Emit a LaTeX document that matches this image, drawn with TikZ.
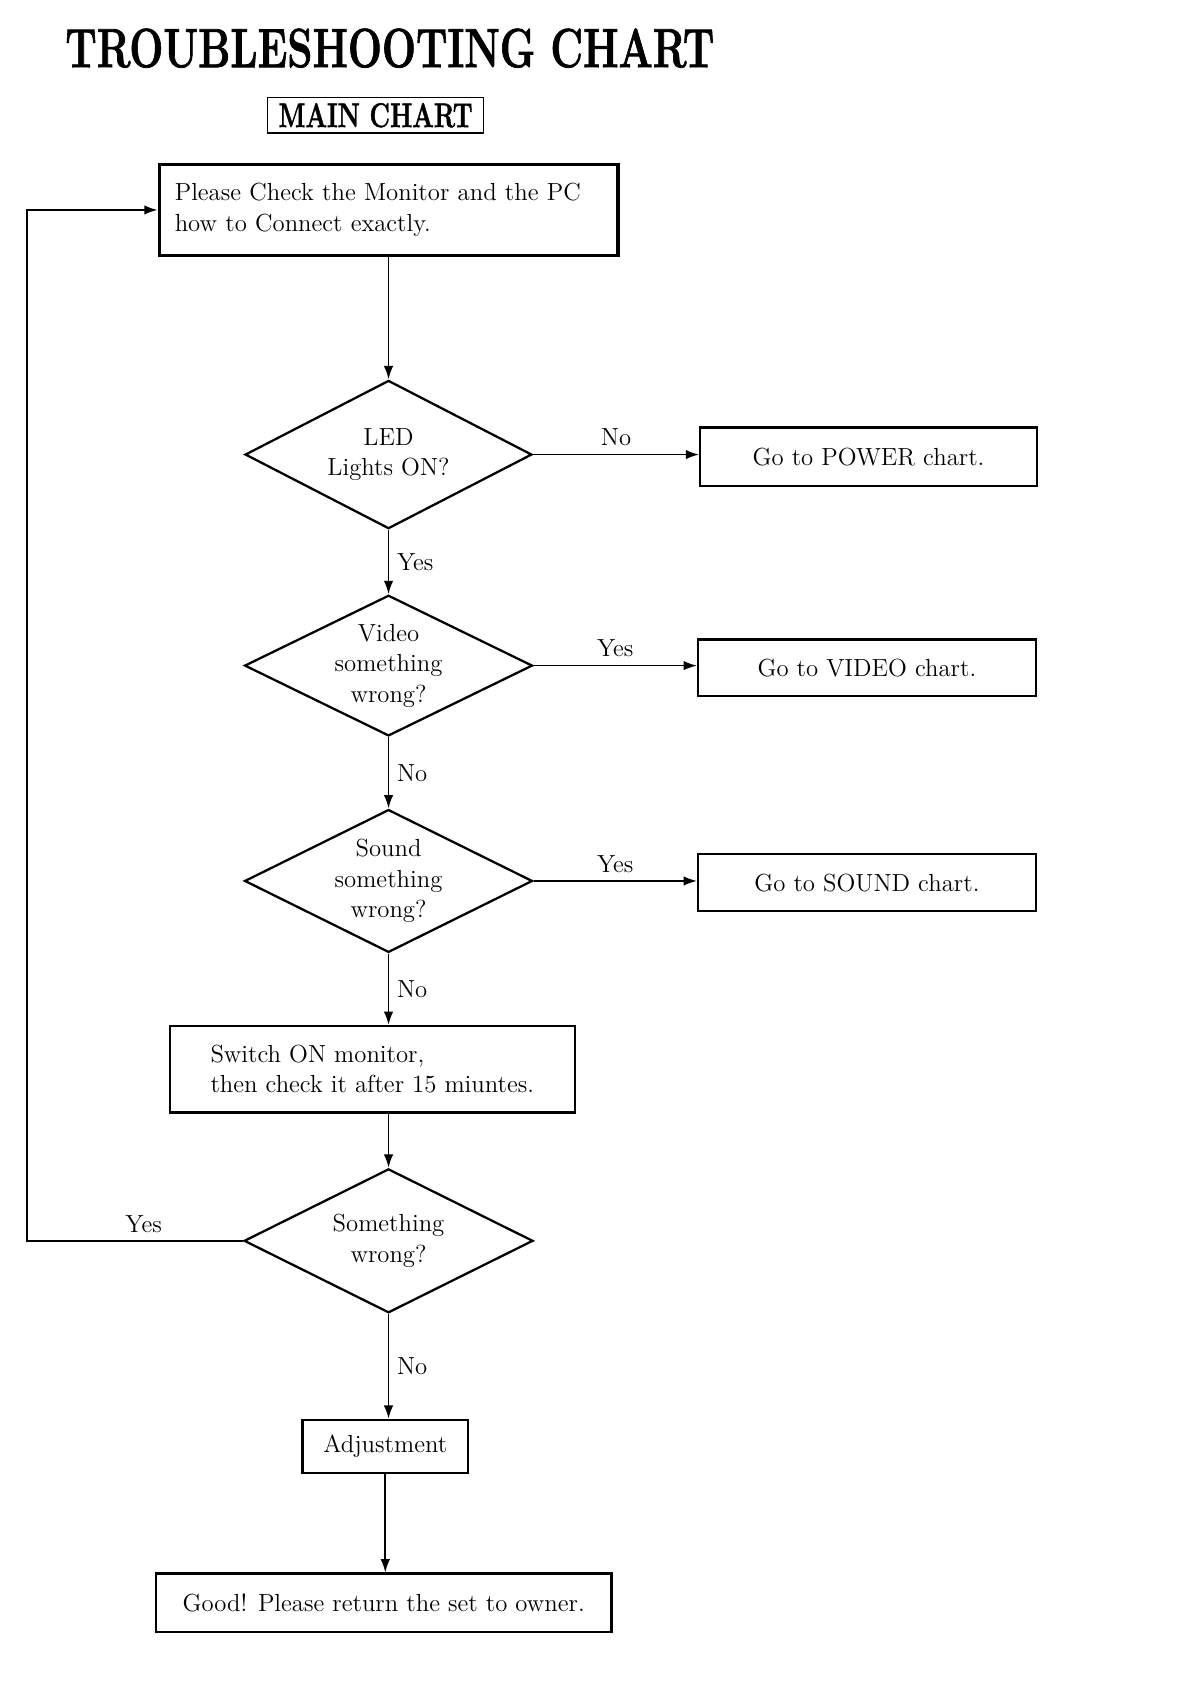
\documentclass[tikz,border=0pt]{standalone}
\usepackage{fontspec}
\usepackage{graphicx}
\usetikzlibrary{shapes.geometric,arrows.meta}
\newfontfamily\headfont[FakeBold=1.5]{Latin Modern Roman}

\begin{document}
\begin{tikzpicture}[
	box/.style={draw, black, line width=1.2pt, inner sep=0pt, align=center, font=\fontsize{13}{16}\selectfont},
	decision/.style={draw, black, diamond, aspect=2, line width=1.2pt, inner sep=0pt, align=center, font=\fontsize{13}{16}\selectfont},
	flow/.style={black, line width=0.9pt, -{Latex[length=7pt, width=5pt]}},
	lbl/.style={inner sep=4pt, font=\fontsize{13}{16}\selectfont},
	]
			    \useasboundingbox (0, 0) rectangle (22, -31.12);

			    \node [anchor=base west, inner sep=0pt, font=\fontsize{29}{30}\headfont\bfseries] at (1.2, -1.24) (title) {\scalebox{0.73}[1]{TROUBLESHOOTING CHART}};
			    \node [draw, line width=0.7pt, minimum width=4cm, minimum height=0.66cm, inner sep=0pt, font=\fontsize{18}{20}\headfont\bfseries] at (6.94, -2.13) (main) {\scalebox{0.74}[1]{MAIN CHART}};

			    \node [box, line width=1.6pt, minimum width=8.48cm, minimum height=1.68cm, text width=7.9cm, align=left] at (7.18, -3.88) (check) {Please Check the Monitor and the PC\\how to Connect exactly.};

			    \node [decision, minimum width=5.3cm, minimum height=2.74cm] at (7.18, -8.4) (led) {LED\\Lights ON?};
			    \node [box, minimum width=6.22cm, minimum height=1.08cm] at (16.05, -8.44) (powerchart) {Go to POWER chart.};

			    \node [decision, minimum width=5.32cm, minimum height=2.6cm] at (7.18, -12.3) (video) {Video\\something\\wrong?};
			    \node [box, minimum width=6.24cm, minimum height=1.04cm] at (16.02, -12.34) (videochart) {Go to VIDEO chart.};

			    \node [decision, minimum width=5.32cm, minimum height=2.64cm] at (7.18, -16.28) (sound) {Sound\\something\\wrong?};
			    \node [box, minimum width=6.24cm, minimum height=1.06cm] at (16.02, -16.31) (soundchart) {Go to SOUND chart.};

			    \node [box, minimum width=7.48cm, minimum height=1.6cm, align=left] at (6.88, -19.76) (warmup) {Switch ON monitor,\\then check it after 15 miuntes.};

			    \node [decision, minimum width=5.34cm, minimum height=2.66cm] at (7.18, -22.93) (recheck) {Something\\wrong?};
			    \coordinate (loop) at (0.5, -22.93);

			    \node [box, minimum width=3.06cm, minimum height=0.98cm] at (7.12, -26.73) (adjust) {Adjustment};
			    \node [box, minimum width=8.42cm, minimum height=1.08cm] at (7.09, -29.62) (good) {Good! Please return the set to owner.};

			    \draw [flow] (check) -- (led);
			    \draw [flow] (led.east) -- node [lbl, above] {No} (led.east -| powerchart.west);
			    \draw [flow] (led) -- node [lbl, right] {Yes} (video);
			    \draw [flow] (video.east) -- node [lbl, above] {Yes} (video.east -| videochart.west);
			    \draw [flow] (video) -- node [lbl, right] {No} (sound);
			    \draw [flow] (sound.east) -- node [lbl, above] {Yes} (sound.east -| soundchart.west);
			    \draw [flow] (sound.south) -- node [lbl, right] {No} (sound.south |- warmup.north);

			    \draw [flow] (warmup.south -| recheck.north) -- (recheck.north);
			    \draw [flow] (recheck.west) -- node [lbl, above, pos=0.46] {Yes} (loop) |- (check.west);
			    \draw [flow] (recheck.south) -- node [lbl, right] {No} (recheck.south |- adjust.north);
			    \draw [flow] (adjust.south) -- (adjust.south |- good.north);
		    \end{tikzpicture}
\end{document}
